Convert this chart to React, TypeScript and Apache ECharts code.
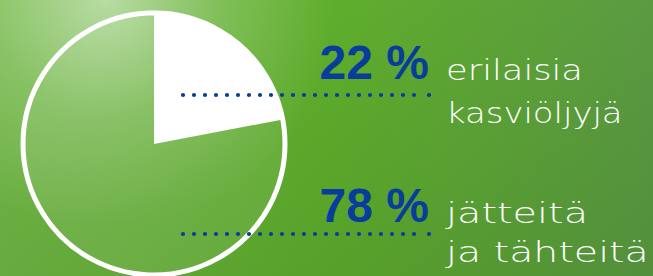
import React, { useEffect, useRef } from 'react';
import * as echarts from 'echarts';

const categories = ['erilaisia kasviöljyjä', 'jätteitä ja tähteitä'];
const shares = [22, 78];
const labelLines = [
  ['erilaisia', 'kasviöljyjä'],
  ['jätteitä', 'ja tähteitä'],
];

const W = 653;
const H = 276;
const BLUE = '#083d9c';

export default function App() {
  const ref = useRef<HTMLDivElement>(null);

  useEffect(() => {
    document.body.style.margin = '0';
    const chart = echarts.init(ref.current as HTMLDivElement, null, { renderer: 'svg' });

    const cx = 154;
    const cy = 144;
    const r = 130;
    const numBase = [79, 222];
    const textBase = [
      [80, 123],
      [223, 262],
    ];
    const dotY = [95, 234];
    const numSize = 48;
    const txtSize = 28;
    const txtScale = [
      [1.26, 1.21],
      [1.42, 1.41],
    ];

    const graphics: any[] = [
      {
        type: 'rect',
        silent: true,
        z: -20,
        shape: { x: 0, y: 0, width: W, height: H },
        style: {
          fill: {
            type: 'linear', x: 0, y: 0, x2: 0, y2: 1,
            colorStops: [
              { offset: 0, color: 'rgba(0,30,0,0)' },
              { offset: 1, color: 'rgba(0,30,0,0.09)' },
            ],
          },
        },
      },
      {
        type: 'rect',
        silent: true,
        z: -19,
        shape: { x: 0, y: 0, width: W, height: H },
        style: {
          fill: {
            type: 'radial', x: 105, y: 0, r: 230, global: true,
            colorStops: [
              { offset: 0, color: 'rgba(235,245,230,0.6)' },
              { offset: 0.5, color: 'rgba(235,245,230,0.2)' },
              { offset: 1, color: 'rgba(235,245,230,0)' },
            ],
          },
        },
      },
      {
        type: 'circle',
        silent: true,
        z: 5,
        shape: { cx, cy, r: 131 },
        style: { fill: 'none', stroke: '#ffffff', lineWidth: 5 },
      },
    ];

    shares.forEach((v, i) => {
      graphics.push({
        type: 'line',
        silent: true,
        z: 10,
        shape: { x1: 183, y1: dotY[i], x2: 414.5, y2: dotY[i] },
        style: { stroke: BLUE, lineWidth: 4.2, lineDash: [0, 11], lineCap: 'round' },
      });
      graphics.push({
        type: 'circle',
        silent: true,
        z: 10,
        shape: { cx: 429, cy: dotY[i], r: 2.1 },
        style: { fill: BLUE },
      });
      graphics.push({
        type: 'text',
        silent: true,
        z: 10,
        x: 429,
        y: numBase[i] - 0.347 * numSize,
        style: {
          text: `${v} %`,
          fontFamily: 'Liberation Sans',
          fontWeight: 'bold',
          fontSize: numSize,
          fill: BLUE,
          align: 'right',
          verticalAlign: 'middle',
        },
      });
      labelLines[i].forEach((line, j) => {
        graphics.push({
          type: 'text',
          silent: true,
          z: 10,
          x: 446,
          y: textBase[i][j] - 0.347 * txtSize,
          scaleX: txtScale[i][j],
          style: {
            text: line,
            fontFamily: 'DejaVu Sans',
            fontWeight: 200,
            fontSize: txtSize,
            fill: '#ffffff',
            align: 'left',
            verticalAlign: 'middle',
          },
        });
      });
    });

    chart.setOption({
      animation: false,
      backgroundColor: {
        type: 'linear', x: 0, y: 0, x2: 1, y2: 0,
        colorStops: [
          { offset: 0, color: '#72b946' },
          { offset: 0.5, color: '#5fae2c' },
          { offset: 1, color: '#5b9a42' },
        ],
      },
      series: [
        {
          type: 'pie',
          center: [cx, cy],
          radius: r,
          startAngle: 90,
          clockwise: true,
          silent: true,
          label: { show: false },
          labelLine: { show: false },
          emphasis: { disabled: true },
          data: categories.map((c, i) => ({
            name: c,
            value: shares[i],
            itemStyle: {
              color: i === 0 ? '#ffffff' : 'rgba(255,255,255,0.07)',
              borderWidth: 0,
            },
          })),
        },
      ],
      graphic: graphics,
    });

    return () => chart.dispose();
  }, []);

  return <div ref={ref} style={{ width: W, height: H }} />;
}
